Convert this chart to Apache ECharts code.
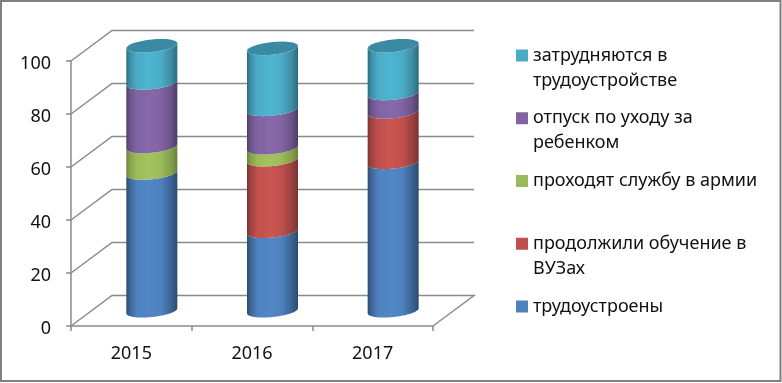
<!DOCTYPE html>
<html><head><meta charset="utf-8">
<style>html,body{margin:0;padding:0;background:#fff}#c{width:782px;height:383px}</style>
<script src="https://cdn.jsdelivr.net/npm/echarts@6/dist/echarts.min.js"></script>
</head><body><div id="c"></div>
<script>
const categories = ['2015', '2016', '2017'];
const tickValues = [0, 20, 40, 60, 80, 100];
const employed = [52, 30, 56];
const studying = [0, 27, 19];
const army = [10, 4.5, 0];
const leave = [24, 14.5, 7];
const jobless = [14, 23, 18];
const seriesNames = ['трудоустроены', 'продолжили обучение в ВУЗах', 'проходят службу в армии', 'отпуск по уходу за ребенком', 'затрудняются в трудоустройстве'];
const legendText = {
  'затрудняются в трудоустройстве': '\nзатрудняются в\nтрудоустройстве',
  'отпуск по уходу за ребенком': '\nотпуск по уходу за\nребенком',
  'проходят службу в армии': '\nпроходят службу в армии\n',
  'продолжили обучение в ВУЗах': '\nпродолжили обучение в\nВУЗах',
  'трудоустроены': '\nтрудоустроены\n'
};
const seriesValues = [employed, studying, army, leave, jobless];
const palette = [
  {base:'#4f81bd', mid:'#5286c6', dark:'#2d4a6e', edge:'#3a6392'},
  {base:'#c0504d', mid:'#cc5551', dark:'#7a3331', edge:'#9a403e'},
  {base:'#9bbb59', mid:'#a2c45e', dark:'#6a803c', edge:'#82a04a'},
  {base:'#8064a2', mid:'#8768ab', dark:'#4d3c62', edge:'#6a5388'},
  {base:'#4bacc6', mid:'#4db5d2', dark:'#2c6a7c', edge:'#3c8ca3'}
];
const topCap = '#3a8aa3';
const depthX = 41, depthY = -30.5, gridColor = '#8a8a8a';
const rx = 25.5, ry = 6.3, shear = 2.5, steps = 32;

function arcPts(cx, cy, from, to) {
  const pts = [];
  for (let i = 0; i <= steps; i++) {
    const t = from + (to - from) * i / steps;
    pts.push([cx + rx * Math.cos(t), cy + ry * Math.sin(t) - shear * Math.cos(t)]);
  }
  return pts;
}
function bodyFill(p) {
  return new echarts.graphic.LinearGradient(0, 0, 1, 0, [
    {offset: 0, color: p.dark}, {offset: 0.06, color: p.edge}, {offset: 0.2, color: p.base},
    {offset: 0.45, color: p.mid}, {offset: 0.68, color: p.base}, {offset: 0.88, color: p.edge}, {offset: 1, color: p.dark}
  ]);
}
function cylinderSeries(idx) {
  const data = categories.map((c, i) => {
    let start = 0;
    for (let k = 0; k < idx; k++) start += seriesValues[k][i];
    let total = 0;
    for (let k = 0; k < seriesValues.length; k++) total += seriesValues[k][i];
    return [i, start, start + seriesValues[idx][i], total];
  });
  return {
    type: 'custom', name: seriesNames[idx], coordinateSystem: 'cartesian2d', z: 5,
    itemStyle: {color: palette[idx].base},
    encode: {x: 0, y: [1, 2]},
    data,
    renderItem(params, api) {
      const cat = api.value(0), lo = api.value(1), hi = api.value(2), total = api.value(3);
      if (hi - lo <= 0) return {type: 'group', children: []};
      const a = api.coord([cat, lo]), b = api.coord([cat, hi]);
      const cx = a[0] + depthX / 2, yLo = a[1] + depthY / 2, yHi = b[1] + depthY / 2;
      const pts = arcPts(cx, yLo, 0, Math.PI).concat(arcPts(cx, yHi, Math.PI, 0));
      const kids = [{type: 'polygon', shape: {points: pts}, style: {fill: bodyFill(palette[idx])}}];
      if (Math.abs(hi - total) < 1e-6) {
        kids.push({type: 'polygon', shape: {points: arcPts(cx, yHi, 0, Math.PI * 2)}, style: {fill: topCap}});
      }
      return {type: 'group', children: kids};
    }
  };
}
const wallSeries = {
  type: 'custom', name: 'wall', coordinateSystem: 'cartesian2d', z: 1, silent: true,
  data: tickValues.map(v => [0, v]),
  encode: {x: 0, y: 1},
  renderItem(params, api) {
    const cs = params.coordSys;
    const y = api.coord([0, api.value(1)])[1];
    const pts = [[cs.x, y], [cs.x + depthX, y + depthY], [cs.x + cs.width + depthX, y + depthY]];
    if (api.value(1) === 0) pts.push([cs.x + cs.width, y]);
    return {type: 'polyline', shape: {points: pts}, style: {stroke: gridColor, lineWidth: 1.5, fill: 'none'}};
  }
};
const chart = echarts.init(document.getElementById('c'), null, {renderer: 'canvas'});
const font = '"Noto Sans"';
chart.setOption({
  animation: false,
  backgroundColor: '#fff',
  grid: {left: 71, top: 61, width: 362, height: 265, containLabel: false},
  xAxis: {
    type: 'category', data: categories,
    axisLine: {lineStyle: {color: gridColor, width: 1.5}},
    axisTick: {show: true, length: 5, alignWithLabel: false, lineStyle: {color: gridColor, width: 1.5}},
    axisLabel: {color: '#111', fontFamily: font, fontSize: 18, margin: 19},
    splitLine: {show: false}
  },
  yAxis: {
    type: 'value', min: 0, max: 100, interval: 20,
    axisLine: {show: true, lineStyle: {color: gridColor, width: 1.5}},
    axisTick: {show: true, length: 5, lineStyle: {color: gridColor, width: 1.5}},
    axisLabel: {color: '#111', fontFamily: font, fontSize: 18, margin: 20, verticalAlign: 'top', lineHeight: 5},
    splitLine: {show: false}
  },
  legend: {
    orient: 'vertical', left: 511, top: 13,
    icon: 'rect', itemWidth: 12, itemHeight: 12, itemGap: -12.25,
    data: seriesNames.slice().reverse(),
    formatter: n => legendText[n],
    selectedMode: false,
    textStyle: {color: '#111', fontFamily: font, fontSize: 18, lineHeight: 25}
  },
  graphic: [{
    type: 'rect', z: 100, silent: true,
    shape: {x: 1, y: 1, width: 779.5, height: 380},
    style: {fill: 'none', stroke: '#808080', lineWidth: 2}
  }],
  series: [wallSeries].concat(seriesNames.map((n, i) => cylinderSeries(i)))
});
</script></body></html>
